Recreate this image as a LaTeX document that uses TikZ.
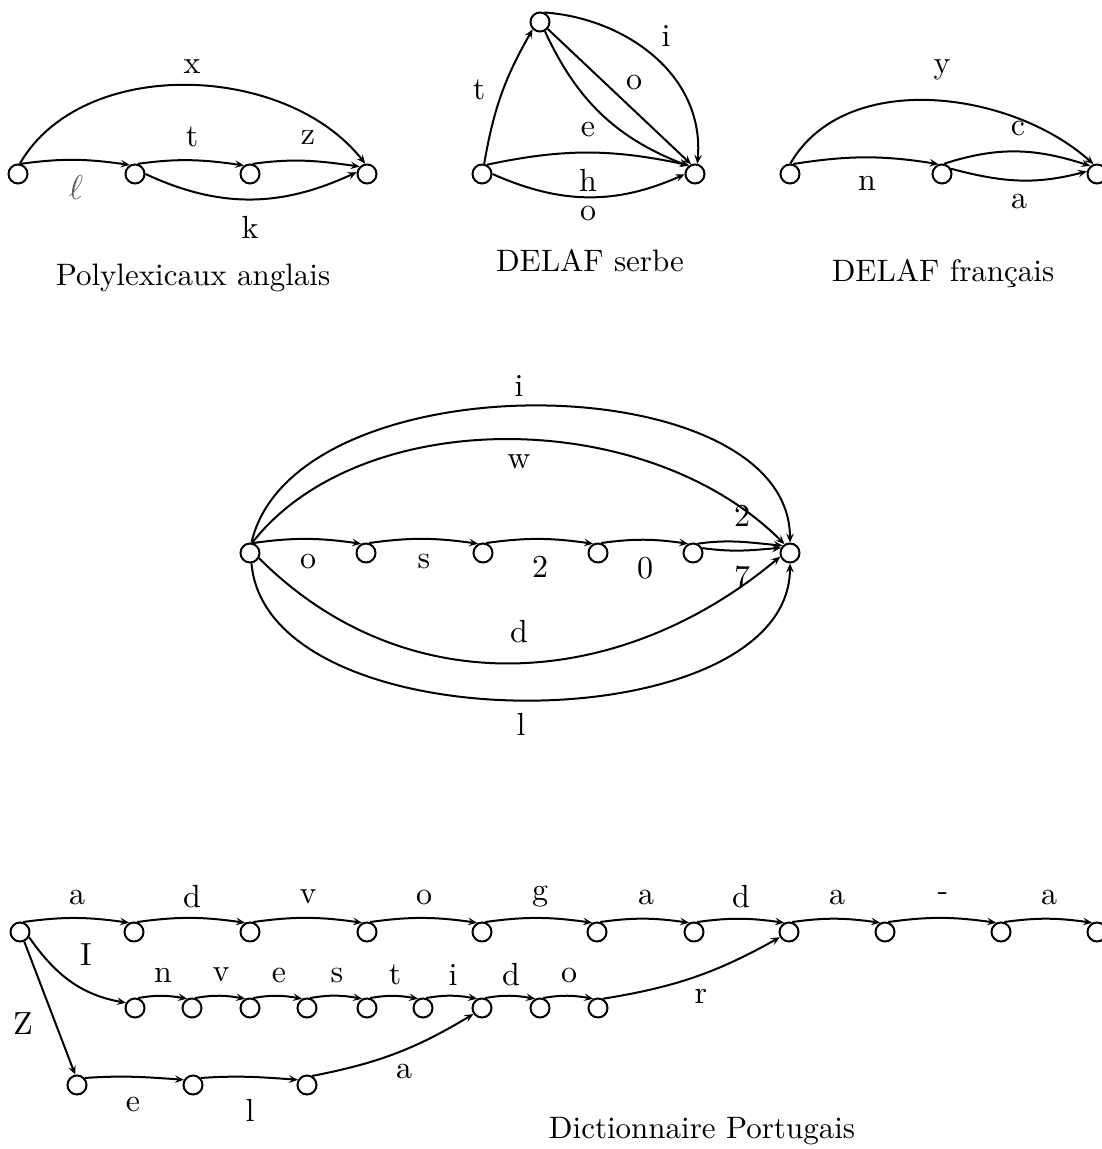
\documentclass[tikz,border=0pt]{standalone}
\usepackage{fontspec}
\newfontfamily\cmten{lmroman10-regular}[Extension=.otf]
\usetikzlibrary{arrows.meta}
\tikzset{
 st/.style={circle,draw,line width=1pt,minimum size=9.5pt,inner sep=0pt},
 tr/.style={line width=1pt,-{Stealth[length=4.5pt,width=3.8pt,inset=1.8pt]}},
 lab/.style={inner sep=0pt,font=\cmten\fontsize{16}{19}\selectfont},
 captxt/.style={inner sep=0pt,font=\cmten\fontsize{15.5}{19}\selectfont},
}
\begin{document}
\begin{tikzpicture}[x=0.5pt,y=0.5pt]
\useasboundingbox (0,0) rectangle (1101,-1149);
% ---------- Polylexicaux anglais
\node[st] (n1) at (18,-174) {};
\node[st] (n2) at (135,-174) {};
\node[st] (n3) at (250,-174) {};
\node[st] (n4) at (367,-174) {};
\draw[tr] (n1.75) to[out=8,in=172] (n2.120);
\draw[tr] (n2.75) to[out=8,in=172] (n3.125);
\draw[tr] (n3.75) to[out=8,in=172] (n4.135);
\draw[tr] (n2.0) to[out=-25,in=205] (n4.170);
\draw[tr] (n1.80) .. controls +(60:125) and +(128:128) .. (n4.100);
\node[lab] (lx) at (192,-67) {x};
\node[lab] (lt) at (192,-137) {t};
\node[lab] (lz) at (308,-138) {z};
\node[lab,text=black!65] (ll) at (76,-188) {$\ell$};
\node[lab] (lk) at (250,-227) {k};
\node[captxt] (c1) at (193,-278) {Polylexicaux anglais};
% ---------- DELAF serbe
\node[st] (m1) at (482,-174) {};
\node[st] (m2) at (540,-22) {};
\node[st] (m3) at (695,-174) {};
\draw[tr] (m1.78) to[bend left=10] (m2.225);
\draw[tr] (m2.65) .. controls +(-4:80) and +(85:90) .. (m3.77);
\draw[tr] (m2.-42) -- (m3.112);
\draw[tr] (m2.-62) to[bend right=22] (m3.130);
\draw[tr] (m1.62) to[out=12,in=168] (m3.124);
\draw[tr] (m1.0) to[out=-24,in=204] (m3.182);
\node[lab] (st1) at (479,-90) {t};
\node[lab] (si) at (666,-36) {i};
\node[lab] (so) at (634,-83) {o};
\node[lab] (se) at (588,-130) {e};
\node[lab] (sh) at (588,-180) {h};
\node[lab] (so2) at (588,-214) {o};
\node[captxt] (c2) at (590,-261) {DELAF serbe};
% ---------- DELAF francais
\node[st] (f1) at (790,-174) {};
\node[st] (f2) at (942,-174) {};
\node[st] (f3) at (1097,-174) {};
\draw[tr] (f1.72) to[out=9,in=171] (f2.110);
\draw[tr] (f2.78) to[out=18,in=162] (f3.130);
\draw[tr] (f2.30) to[out=-15,in=195] (f3.165);
\draw[tr] (f1.88) .. controls +(60:110) and +(138:110) .. (f3.110);
\node[lab] (fy) at (942,-70) {y};
\node[lab] (fc) at (1018,-129) {c};
\node[lab] (fn) at (867,-183) {n};
\node[lab] (fa) at (1019,-202) {a};
\node[captxt] (c3) at (943,-274) {DELAF fran\c{c}ais};
% ---------- middle automaton
\node[st] (g0) at (250,-553) {};
\node[st] (g1) at (366,-553) {};
\node[st] (g2) at (483,-553) {};
\node[st] (g3) at (598,-553) {};
\node[st] (g4) at (693,-553) {};
\node[st] (g5) at (790,-553) {};
\draw[tr] (g0.72) to[out=8,in=172] (g1.118);
\draw[tr] (g1.72) to[out=8,in=172] (g2.118);
\draw[tr] (g2.72) to[out=8,in=172] (g3.118);
\draw[tr] (g3.72) to[out=8,in=172] (g4.118);
\draw[tr] (g4.63) to[out=8,in=175] (g5.135);
\draw[tr] (g4.28) to[out=-8,in=185] (g5.150);
\draw[tr] (g0.82) .. controls +(77:190) and +(90:179) .. (g5.90);
\draw[tr] (g0.78) .. controls +(52:175) and +(135:197) .. (g5.122);
\draw[tr] (g0.-30) .. controls +(-45:210) and +(-140:207) .. (g5.200);
\draw[tr] (g0.-82) .. controls +(-85:185) and +(-90:180) .. (g5.-90);
\node[lab] (gi) at (519,-386) {i};
\node[lab] (gw) at (519,-462) {w};
\node[lab] (g2a) at (742,-516) {2};
\node[lab] (g7) at (742,-577) {7};
\node[lab] (gd) at (519,-632) {d};
\node[lab] (gl) at (521,-724) {l};
\node[lab] (go) at (308,-562) {o};
\node[lab] (gs) at (424,-562) {s};
\node[lab] (g2b) at (540,-567) {2};
\node[lab] (g0l) at (645,-568) {0};
% ---------- Dictionnaire Portugais
\node[st] (p0) at (20,-932) {};
\node[st] (p1) at (134,-932) {};
\node[st] (p2) at (250,-932) {};
\node[st] (p3) at (367,-932) {};
\node[st] (p4) at (482,-932) {};
\node[st] (p5) at (597,-932) {};
\node[st] (p6) at (694,-932) {};
\node[st] (p7) at (789,-932) {};
\node[st] (p8) at (885,-932) {};
\node[st] (p9) at (1001,-932) {};
\node[st] (p10) at (1097,-932) {};
\foreach \a/\b in {p0/p1,p1/p2,p2/p3,p3/p4,p4/p5,p5/p6,p6/p7,p7/p8,p8/p9,p9/p10}
  \draw[tr] (\a.72) to[out=8,in=172] (\b.118);
\node[st] (q1) at (135,-1008) {};
\node[st] (q2) at (192,-1008) {};
\node[st] (q3) at (250,-1008) {};
\node[st] (q4) at (307,-1008) {};
\node[st] (q5) at (367,-1008) {};
\node[st] (q6) at (423,-1008) {};
\node[st] (q7) at (482,-1008) {};
\node[st] (q8) at (540,-1008) {};
\node[st] (q9) at (598,-1008) {};
\foreach \a/\b in {q1/q2,q2/q3,q3/q4,q4/q5,q5/q6,q6/q7,q7/q8,q8/q9}
  \draw[tr] (\a.72) to[out=10,in=170] (\b.118);
\node[st] (z1) at (77,-1085) {};
\node[st] (z2) at (193,-1085) {};
\node[st] (z3) at (307,-1085) {};
\draw[tr] (z1.42) to[out=4,in=176] (z2.150);
\draw[tr] (z2.42) to[out=4,in=176] (z3.150);
\draw[tr] (p0.-30) to[out=-55,in=170] (q1.150);
\draw[tr] (p0.-66) -- (z1.100);
\draw[tr] (z3.60) to[bend right=10] (q7.215);
\draw[tr] (q9.62) to[bend right=10] (p7.210);
\foreach \n/\x/\t in {a1/77/a,a2/192/d,a3/308/v,a4/424/o,a5/540/g,a6/646/a,a7/741/d,a8/837/a,a9/943/-,a10/1049/a}
  \node[lab] (\n) at (\x,-897) {\t};
\foreach \n/\x/\t in {b1/163/n,b2/221/v,b3/279/e,b4/337/s,b5/395/t,b6/453/i,b7/511/d,b8/569/o}
  \node[lab] (\n) at (\x,-975) {\t};
\node[lab] (pI) at (86,-955) {I};
\node[lab] (pZ) at (23,-1024) {Z};
\node[lab] (pe) at (133,-1104) {e};
\node[lab] (pl) at (250,-1110) {l};
\node[lab] (pa) at (404,-1071) {a};
\node[lab] (pr) at (701,-996) {r};
\node[captxt] (c4) at (702,-1131) {Dictionnaire Portugais};
\end{tikzpicture}
\end{document}
